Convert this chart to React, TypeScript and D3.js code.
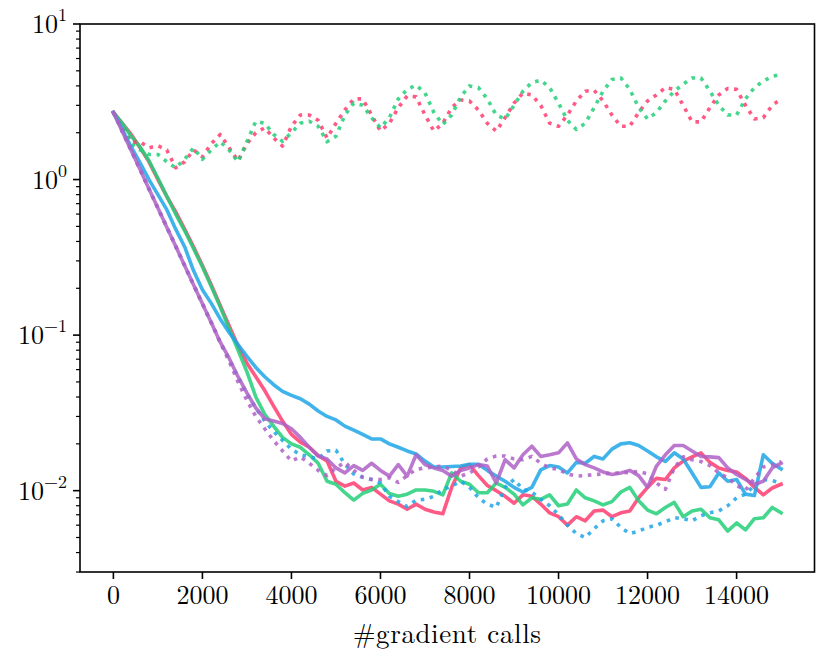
import React from "react";
import * as d3 from "d3";

const W = 831;
const H = 661;

// x positions (#gradient calls), shared by every series
const xs: number[] = d3.range(0, 15001, 200);

const redSolid = [2.7, 2.3, 1.95, 1.6, 1.3, 1.0, 0.78, 0.62, 0.48, 0.37, 0.28, 0.21, 0.155, 0.115, 0.085, 0.066, 0.054, 0.044, 0.035, 0.028, 0.023, 0.0205, 0.019, 0.0168, 0.0155, 0.0115, 0.0107, 0.0112, 0.0101, 0.0105, 0.0095, 0.0086, 0.0082, 0.0076, 0.0082, 0.0076, 0.0073, 0.0071, 0.0105, 0.014, 0.0147, 0.0125, 0.0108, 0.01, 0.0092, 0.0083, 0.0094, 0.0092, 0.0082, 0.0072, 0.0068, 0.006, 0.0068, 0.0064, 0.0074, 0.0075, 0.0068, 0.0072, 0.0074, 0.009, 0.0105, 0.012, 0.0118, 0.014, 0.0155, 0.0165, 0.0175, 0.0152, 0.014, 0.0135, 0.0132, 0.012, 0.0105, 0.0094, 0.0104, 0.011];

const greenSolid = [2.7, 2.3, 1.9, 1.62, 1.32, 1.02, 0.78, 0.6, 0.47, 0.36, 0.275, 0.205, 0.152, 0.11, 0.08, 0.058, 0.04, 0.031, 0.026, 0.022, 0.02, 0.019, 0.017, 0.015, 0.0115, 0.011, 0.0097, 0.0087, 0.0096, 0.0101, 0.011, 0.0096, 0.0092, 0.0095, 0.0101, 0.0101, 0.0099, 0.0094, 0.013, 0.0115, 0.011, 0.0097, 0.0097, 0.0112, 0.0105, 0.0095, 0.0081, 0.009, 0.0088, 0.0094, 0.008, 0.0082, 0.0101, 0.009, 0.0086, 0.0081, 0.0085, 0.0098, 0.0105, 0.0086, 0.0075, 0.0071, 0.0078, 0.0084, 0.0068, 0.0074, 0.0076, 0.0067, 0.0065, 0.0055, 0.0062, 0.0056, 0.0066, 0.0067, 0.0078, 0.0072];

const blueSolid = [2.7, 2.1, 1.62, 1.28, 1.0, 0.8, 0.64, 0.48, 0.37, 0.26, 0.196, 0.16, 0.127, 0.104, 0.087, 0.073, 0.062, 0.054, 0.048, 0.0435, 0.041, 0.039, 0.036, 0.0325, 0.03, 0.0285, 0.026, 0.0245, 0.023, 0.0215, 0.0215, 0.02, 0.019, 0.018, 0.0172, 0.0155, 0.0142, 0.0142, 0.0143, 0.0144, 0.0148, 0.0148, 0.0135, 0.0124, 0.0115, 0.0105, 0.0098, 0.0105, 0.0136, 0.0145, 0.0142, 0.013, 0.0152, 0.015, 0.0166, 0.016, 0.0185, 0.02, 0.0203, 0.0195, 0.018, 0.0165, 0.0154, 0.0175, 0.016, 0.013, 0.0105, 0.0106, 0.013, 0.0115, 0.0118, 0.0095, 0.0093, 0.017, 0.015, 0.0138];

const purpleSolid = [2.7, 2.04, 1.54, 1.16, 0.87, 0.656, 0.494, 0.372, 0.28, 0.211, 0.159, 0.12, 0.09, 0.071, 0.054, 0.0425, 0.034, 0.029, 0.028, 0.027, 0.025, 0.022, 0.019, 0.0167, 0.016, 0.014, 0.013, 0.0145, 0.0135, 0.015, 0.0135, 0.0124, 0.0147, 0.0124, 0.017, 0.0147, 0.014, 0.0135, 0.0124, 0.0135, 0.014, 0.0147, 0.0144, 0.0112, 0.0158, 0.014, 0.017, 0.0193, 0.0166, 0.017, 0.0175, 0.0203, 0.016, 0.0147, 0.014, 0.0132, 0.0127, 0.013, 0.0135, 0.0125, 0.0105, 0.0144, 0.017, 0.0195, 0.0195, 0.018, 0.0166, 0.0165, 0.0163, 0.014, 0.0127, 0.0118, 0.011, 0.0115, 0.014, 0.015];

const redDotted = [2.7, 2.2, 1.73, 1.75, 1.6, 1.65, 1.55, 1.19, 1.3, 1.55, 1.4, 1.7, 1.95, 1.6, 1.32, 1.7, 2.0, 2.15, 1.85, 1.64, 2.2, 2.6, 2.6, 2.4, 1.85, 2.3, 2.8, 3.3, 3.3, 2.6, 2.05, 2.3, 2.9, 3.45, 3.4, 2.6, 2.05, 2.3, 2.9, 3.25, 3.2, 2.8, 2.3, 2.05, 2.5, 3.1, 3.6, 3.5, 3.0, 2.3, 2.2, 2.6, 3.2, 3.7, 3.75, 3.2, 2.6, 2.2, 2.2, 2.7, 3.2, 3.5, 3.9, 3.8, 3.0, 2.35, 2.35, 2.9, 3.5, 3.85, 3.8, 3.0, 2.45, 2.5, 3.0, 3.3];

const greenDotted = [2.7, 2.2, 1.7, 1.55, 1.45, 1.45, 1.3, 1.19, 1.35, 1.6, 1.35, 1.55, 1.75, 1.55, 1.3, 1.75, 2.37, 2.3, 1.95, 1.76, 2.0, 2.3, 2.37, 2.2, 1.75, 1.9, 2.6, 3.1, 3.0, 2.5, 2.15, 2.5, 3.3, 3.8, 4.05, 3.6, 2.7, 2.26, 2.6, 3.4, 4.0, 3.9, 3.3, 2.6, 2.45, 3.0, 3.7, 4.2, 4.35, 3.9, 3.1, 2.4, 2.1, 2.3, 2.9, 3.7, 4.4, 4.5, 3.8, 2.9, 2.45, 2.7, 3.2, 3.7, 4.1, 4.5, 4.5, 3.7, 3.0, 2.6, 2.6, 3.3, 3.9, 4.3, 4.6, 4.75];

const blueDotted = [2.7, 2.04, 1.54, 1.16, 0.87, 0.656, 0.494, 0.372, 0.28, 0.211, 0.159, 0.12, 0.09, 0.07, 0.054, 0.042, 0.034, 0.028, 0.024, 0.021, 0.0185, 0.017, 0.0165, 0.016, 0.018, 0.0182, 0.0148, 0.0128, 0.0122, 0.0118, 0.0112, 0.0092, 0.0085, 0.0079, 0.0087, 0.0088, 0.0092, 0.0102, 0.0107, 0.0115, 0.0105, 0.009, 0.0082, 0.0078, 0.0105, 0.0118, 0.0102, 0.0098, 0.0088, 0.008, 0.007, 0.006, 0.0053, 0.005, 0.0057, 0.0064, 0.0066, 0.0058, 0.0053, 0.0055, 0.0058, 0.006, 0.0063, 0.0067, 0.0066, 0.0064, 0.0069, 0.0072, 0.0074, 0.008, 0.009, 0.0095, 0.0108, 0.0118, 0.0116, 0.0112];

const purpleDotted = [2.7, 2.04, 1.54, 1.16, 0.87, 0.656, 0.494, 0.372, 0.28, 0.211, 0.159, 0.12, 0.09, 0.068, 0.05, 0.038, 0.03, 0.025, 0.021, 0.018, 0.0155, 0.0165, 0.015, 0.0135, 0.0125, 0.014, 0.0152, 0.0135, 0.0122, 0.0118, 0.0118, 0.0121, 0.0113, 0.0125, 0.0137, 0.014, 0.0142, 0.0144, 0.0135, 0.0124, 0.013, 0.0142, 0.016, 0.0167, 0.0167, 0.016, 0.0158, 0.0166, 0.015, 0.014, 0.0137, 0.0128, 0.0124, 0.0125, 0.0127, 0.0128, 0.013, 0.013, 0.0131, 0.0133, 0.0128, 0.0112, 0.0102, 0.014, 0.0165, 0.0158, 0.0154, 0.0145, 0.013, 0.0121, 0.0108, 0.0101, 0.012, 0.0142, 0.0147, 0.0154];

const xTicks = [0, 2000, 4000, 6000, 8000, 10000, 12000, 14000];
const yMajor = [-2, -1, 0, 1];
const xLabel = "#gradient calls";

const COLORS = {
  red: "#ff3d70",
  green: "#22cf78",
  blue: "#1fa6e6",
  purple: "#ae62c6",
};

const series = [
  { values: redSolid, color: COLORS.red, dotted: false },
  { values: greenSolid, color: COLORS.green, dotted: false },
  { values: redDotted, color: COLORS.red, dotted: true },
  { values: greenDotted, color: COLORS.green, dotted: true },
  { values: blueSolid, color: COLORS.blue, dotted: false },
  { values: blueDotted, color: COLORS.blue, dotted: true },
  { values: purpleSolid, color: COLORS.purple, dotted: false },
  { values: purpleDotted, color: COLORS.purple, dotted: true },
];

const FONT = "'Latin Modern Roman', 'CMU Serif', 'Liberation Serif', serif";

export default function App() {
  const left = 80, right = 814.5, top = 24, bottom = 572;
  const x = d3.scaleLinear().domain([-750, 15750]).range([left, right]);
  const y = d3.scaleLog().domain([0.003, 10]).range([bottom, top]);

  const line = d3
    .line<[number, number]>()
    .x((d) => x(d[0]))
    .y((d) => y(d[1]));

  const minor: number[] = [];
  for (let e = -3; e <= 0; e++) {
    for (let m = 2; m <= 9; m++) {
      const v = m * Math.pow(10, e);
      if (v >= 0.003 && v <= 10) minor.push(v);
    }
  }

  return (
    <div style={{ position: "fixed", left: 0, top: 0, width: W, height: H, background: "#fff" }}>
      <svg width={W} height={H} style={{ display: "block" }} fontFamily={FONT}>
        <rect x={0} y={0} width={W} height={H} fill="#fff" />
        <defs>
          <clipPath id="plot">
            <rect x={left} y={top} width={right - left} height={bottom - top} />
          </clipPath>
        </defs>
        <g clipPath="url(#plot)">
          {series.map((s, i) => (
            <path
              key={i}
              d={line(xs.map((xv, j) => [xv, s.values[j]] as [number, number])) || ""}
              fill="none"
              stroke={s.color}
              strokeOpacity={0.85}
              strokeWidth={3.6}
              strokeLinejoin="round"
              strokeLinecap={s.dotted ? "butt" : "square"}
              strokeDasharray={s.dotted ? "3.6,5.6" : undefined}
            />
          ))}
        </g>
        <rect
          x={left}
          y={top}
          width={right - left}
          height={bottom - top}
          fill="none"
          stroke="#000"
          strokeWidth={1.6}
        />
        {/* x ticks */}
        {xTicks.map((t) => (
          <g key={t}>
            <line x1={x(t)} x2={x(t)} y1={bottom} y2={bottom + 7} stroke="#000" strokeWidth={1.6} />
            <text x={x(t)} y={bottom + 32} textAnchor="middle" fontSize={26} fill="#000">
              {t}
            </text>
          </g>
        ))}
        {/* y minor ticks */}
        {minor.map((v, i) => (
          <line key={i} x1={left - 4} x2={left} y1={y(v)} y2={y(v)} stroke="#000" strokeWidth={1.2} />
        ))}
        {/* y major ticks */}
        {yMajor.map((e) => (
          <g key={e}>
            <line x1={left - 7} x2={left} y1={y(Math.pow(10, e))} y2={y(Math.pow(10, e))} stroke="#000" strokeWidth={1.6} />
            <text x={left - 13} y={y(Math.pow(10, e)) + 9} textAnchor="end" fontSize={26} fill="#000">
              10
              <tspan fontSize={18} dy={-12}>
                {e < 0 ? "\u2212" + Math.abs(e) : String(e)}
              </tspan>
            </text>
          </g>
        ))}
        <text x={(left + right) / 2} y={643} textAnchor="middle" fontSize={27} letterSpacing={0.6} fill="#000">
          {xLabel}
        </text>
      </svg>
    </div>
  );
}
